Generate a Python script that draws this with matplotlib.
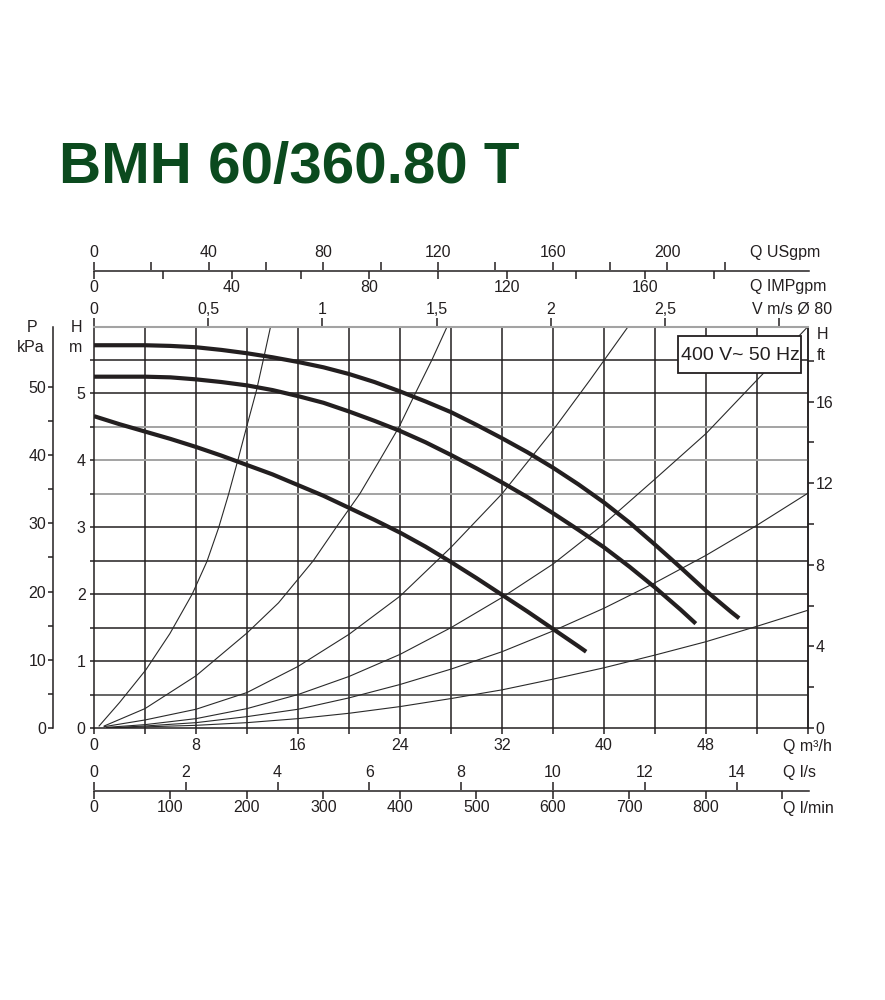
import numpy as np
import matplotlib.pyplot as plt
from matplotlib import font_manager
from matplotlib.patches import Rectangle

plt.rcParams['font.family'] = ['Liberation Sans', 'DejaVu Sans']

title = 'BMH 60/360.80 T'
supply = '400 V~ 50 Hz'

# pump curves, Q in m3/h, H in m
q_1 = [0, 2, 4, 6, 8, 10, 12, 14, 16, 18, 20, 22, 24, 26, 28, 30, 32, 34, 36, 38, 40, 42, 44, 46, 48, 50, 50.6]
h_1 = [5.72, 5.72, 5.72, 5.71, 5.69, 5.65, 5.60, 5.54, 5.47, 5.39, 5.29, 5.17, 5.03, 4.88, 4.72, 4.53,
       4.33, 4.12, 3.89, 3.64, 3.37, 3.07, 2.74, 2.40, 2.05, 1.73, 1.64]
q_2 = [0, 2, 4, 6, 8, 10, 12, 14, 16, 18, 20, 22, 24, 26, 28, 30, 32, 34, 36, 38, 40, 42, 44, 46, 47.2]
h_2 = [5.25, 5.25, 5.25, 5.24, 5.21, 5.17, 5.12, 5.05, 4.96, 4.86, 4.73, 4.59, 4.44, 4.27, 4.08, 3.88,
       3.67, 3.45, 3.21, 2.96, 2.70, 2.41, 2.10, 1.77, 1.56]
q_3 = [0, 2, 4, 6, 8, 10, 12, 14, 16, 18, 20, 22, 24, 26, 28, 30, 32, 34, 36, 38, 38.6]
h_3 = [4.66, 4.54, 4.43, 4.32, 4.20, 4.07, 3.93, 3.79, 3.63, 3.47, 3.29, 3.11, 2.92, 2.71, 2.48, 2.24,
       1.99, 1.74, 1.48, 1.22, 1.14]

# thin system curves
qa = [0.4, 2, 4.07, 5.95, 7.7, 8.86, 9.77, 10.55, 11.28, 12.0, 12.75, 13.3, 13.85]
ha = [0.03, 0.38, 0.87, 1.41, 2.0, 2.49, 2.99, 3.49, 4.0, 4.52, 5.05, 5.52, 6.0]
qb = [0.8, 4, 8, 12, 14.47, 17.2, 19.0, 20.85, 22.4, 23.93, 25.2, 26.5, 27.7]
hb = [0.03, 0.29, 0.78, 1.42, 1.87, 2.5, 3.0, 3.5, 4.0, 4.5, 5.0, 5.5, 6.0]
qc = [0.8, 4, 8, 12, 16, 20, 24, 28, 32, 36, 38.9, 41.9]
hc = [0.02, 0.12, 0.28, 0.53, 0.92, 1.40, 1.97, 2.70, 3.5, 4.45, 5.2, 6.0]
qd = [1, 4, 8, 12, 16, 20, 24, 28, 32, 36, 40, 44, 48, 52, 56]
hd = [0.01, 0.05, 0.14, 0.29, 0.5, 0.77, 1.1, 1.5, 1.95, 2.45, 3.05, 3.72, 4.4, 5.2, 6.0]
qe = [1, 4, 8, 12, 16, 20, 24, 28, 32, 36, 40, 44, 48, 52, 56]
he = [0.0, 0.03, 0.08, 0.17, 0.28, 0.45, 0.65, 0.88, 1.14, 1.45, 1.79, 2.17, 2.58, 3.03, 3.51]
qf = [1, 8, 12, 16, 20, 24, 28, 32, 36, 40, 44, 48, 52, 56]
hf = [0.0, 0.04, 0.08, 0.14, 0.22, 0.32, 0.44, 0.57, 0.73, 0.9, 1.09, 1.29, 1.52, 1.76]
thin_curves = [(qa, ha), (qb, hb), (qc, hc), (qd, hd), (qe, he), (qf, hf)]

# scales
q_ticks = list(range(0, 57, 4))
q_labels = [str(q) if q % 8 == 0 and q <= 48 else '' for q in q_ticks]
h_ticks = [i * 0.5 for i in range(12)]
h_labels = [str(int(h)) if h == int(h) else '' for h in h_ticks]
ft_ticks = list(range(0, 19, 2))
ft_labels = [str(f) if f % 4 == 0 else '' for f in ft_ticks]
kpa_ticks = list(range(0, 51, 5))
kpa_labels = [str(p) if p % 10 == 0 else '' for p in kpa_ticks]
us_ticks = list(range(0, 221, 20))
us_labels = [str(u) if u % 40 == 0 else '' for u in us_ticks]
imp_ticks = list(range(0, 181, 20))
imp_labels = [str(u) if u % 40 == 0 else '' for u in imp_ticks]
v_ticks = [0, 0.5, 1, 1.5, 2, 2.5, 3]
v_labels = ['0', '0,5', '1', '1,5', '2', '2,5', '']
ls_ticks = list(range(0, 15, 2))
ls_labels = [str(s) for s in ls_ticks]
lmin_ticks = list(range(0, 901, 100))
lmin_labels = [str(m) if m <= 800 else '' for m in lmin_ticks]

US_GPM = 4.4029
IMP_GPM = 3.6662
KPA_PER_M = 9.81
FT = 0.3048
PIPE_AREA = np.pi * 0.04 ** 2
TOP_STRETCH = 1.01  # the upper scales are printed slightly compressed

ink = '#231f20'
grey = '#a3a3a3'
fs = 11.5

W, H = 885, 1000


def box(x0, y0, x1, y1):
    return [x0 / W, 1 - y1 / H, (x1 - x0) / W, (y1 - y0) / H]


def px(x, y):
    return x / W, 1 - y / H


fig = plt.figure(figsize=(W / 100, H / 100), dpi=100)

fig.text(*px(59, 183), title, fontsize=42, fontweight='bold', color='#0b4a1e',
         va='baseline', ha='left')

# main chart
ax = fig.add_axes(box(94, 326.5, 808, 728))
ax.set_xlim(0, 56)
ax.set_ylim(0, 6)
for q in range(4, 56, 4):
    ax.axvline(q, color=ink, lw=1.1, zorder=1)
for h in [3.5, 4, 4.5]:
    ax.axhline(h, color=grey, lw=1.4, zorder=1)
for h in [0.5, 1, 1.5, 2, 2.5, 3, 5, 5.5]:
    ax.axhline(h, color='#3a3a3a' if h == 0.5 else ink, lw=1.1, zorder=1)

for name in ['left', 'bottom', 'right']:
    ax.spines[name].set_color(ink)
    ax.spines[name].set_linewidth(1.1)
ax.spines['top'].set_color(grey)
ax.spines['top'].set_linewidth(1.5)

for q, h in thin_curves:
    ax.plot(q, h, color='#2a2a2a', lw=0.8, zorder=2)
for q, h in [(q_1, h_1), (q_2, h_2), (q_3, h_3)]:
    ax.plot(q, h, color=ink, lw=3.0, zorder=3, solid_capstyle='butt', solid_joinstyle='round')

ax.set_xticks(q_ticks, q_labels)
ax.set_yticks(h_ticks, h_labels)
ax.tick_params(axis='x', direction='out', length=4, width=1.1, color=ink,
               pad=3, labelsize=fs, labelcolor=ink)
ax.tick_params(axis='y', direction='out', length=3, width=1.1, color=ink,
               pad=3, labelsize=fs, labelcolor=ink)

ft_ax = ax.secondary_yaxis('right', functions=(lambda m: m / FT, lambda f: f * FT))
ft_ax.set_yticks(ft_ticks, ft_labels)
ft_ax.tick_params(direction='out', length=4.5, width=1.1, color=ink, pad=1,
                  labelsize=fs, labelcolor=ink)
ft_ax.spines['right'].set_color(ink)
ft_ax.spines['right'].set_linewidth(1.1)

v_ax = ax.secondary_xaxis('top', functions=(lambda q: q / (3600 * PIPE_AREA) * TOP_STRETCH,
                                            lambda v: v * 3600 * PIPE_AREA / TOP_STRETCH))
v_ax.set_xticks(v_ticks, v_labels)
v_ax.tick_params(direction='out', length=6, width=1.1, color=ink, pad=1,
                 labelsize=fs, labelcolor=ink)
v_ax.spines['top'].set_visible(False)

# supply box
narrow = 'Liberation Sans Narrow' in {f.name for f in font_manager.fontManager.ttflist}
x0, y0 = px(678, 373)
x1, y1 = px(801, 336)
fig.add_artist(Rectangle((x0, y0), x1 - x0, y1 - y0, transform=fig.transFigure,
                         fc='white', ec=ink, lw=1.3, zorder=5))
fig.text(*px(740, 355), supply, ha='center', va='center', color=ink, zorder=6,
         family='Liberation Sans Narrow' if narrow else 'Liberation Sans',
         fontsize=16.5 if narrow else 14)

# pressure scale on the far left
p_ax = fig.add_axes(box(53, 326.5, 54, 728))
p_ax.set_ylim(0, 6 * KPA_PER_M)
for name in ['top', 'right', 'bottom']:
    p_ax.spines[name].set_visible(False)
p_ax.spines['left'].set_color(ink)
p_ax.spines['left'].set_linewidth(1.1)
p_ax.set_xticks([])
p_ax.set_yticks(kpa_ticks, kpa_labels)
p_ax.tick_params(axis='y', direction='out', length=3.5, width=1.1, color=ink,
                 pad=1.5, labelsize=fs, labelcolor=ink)
p_ax.patch.set_visible(False)


def scale_bar(y, top_fn, bottom_fn, top_ticks, top_labels, bottom_ticks, bottom_labels):
    sb = fig.add_axes(box(94, y, 809, y + 0.5))
    sb.set_xlim(0, 56.08)
    sb.patch.set_visible(False)
    for name in ['top', 'left', 'right']:
        sb.spines[name].set_visible(False)
    sb.spines['bottom'].set_color(ink)
    sb.spines['bottom'].set_linewidth(1.1)
    sb.set_yticks([])
    sb.tick_params(axis='x', bottom=False, labelbottom=False)
    up = sb.secondary_xaxis('top', functions=top_fn)
    up.set_xticks(top_ticks, top_labels)
    up.spines['top'].set_visible(False)
    up.tick_params(direction='out', length=5.5, width=1.1, color=ink, pad=1.5,
                   labelsize=fs, labelcolor=ink)
    down = sb.secondary_xaxis('bottom', functions=bottom_fn)
    down.set_xticks(bottom_ticks, bottom_labels)
    down.spines['bottom'].set_visible(False)
    down.tick_params(direction='out', length=5.5, width=1.1, color=ink, pad=1.5,
                     labelsize=fs, labelcolor=ink)


scale_bar(270,
          (lambda q: q * US_GPM * TOP_STRETCH, lambda u: u / (US_GPM * TOP_STRETCH)),
          (lambda q: q * IMP_GPM * TOP_STRETCH, lambda u: u / (IMP_GPM * TOP_STRETCH)),
          us_ticks, us_labels, imp_ticks, imp_labels)
scale_bar(790,
          (lambda q: q / 3.6, lambda s: s * 3.6),
          (lambda q: q * 1000 / 60, lambda m: m * 60 / 1000),
          ls_ticks, ls_labels, lmin_ticks, lmin_labels)

# unit labels
txt = dict(fontsize=fs, color=ink, va='center', ha='left')
fig.text(*px(750, 253), 'Q USgpm', **txt)
fig.text(*px(750, 287), 'Q IMPgpm', **txt)
fig.text(*px(752, 309), 'V m/s Ø 80', **txt)
fig.text(*px(783, 746), 'Q m³/h', **txt)
fig.text(*px(783, 773), 'Q l/s', **txt)
fig.text(*px(783, 809), 'Q l/min', **txt)
fig.text(*px(817, 334), 'H', **txt)
fig.text(*px(817, 356), 'ft', **txt)
fig.text(*px(77, 327), 'H', fontsize=fs, color=ink, va='center', ha='center')
fig.text(*px(76, 348), 'm', fontsize=fs, color=ink, va='center', ha='center')
fig.text(*px(32, 327), 'P', fontsize=fs, color=ink, va='center', ha='center')
fig.text(*px(31, 348), 'kPa', fontsize=fs, color=ink, va='center', ha='center')

fig.savefig('out.png', dpi=100)
